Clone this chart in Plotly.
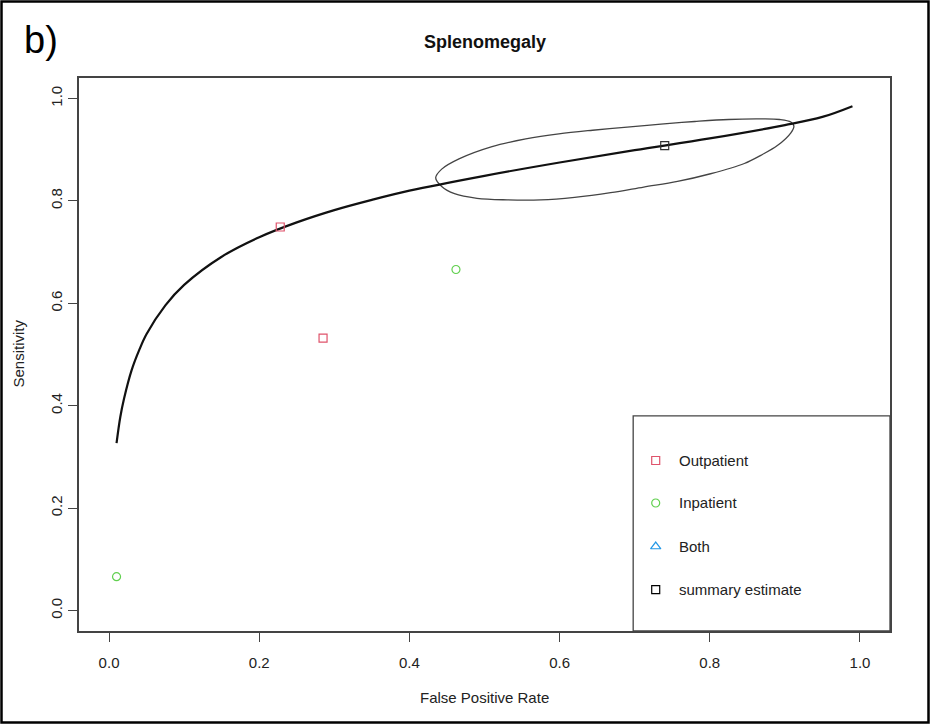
import plotly.graph_objects as go

# --- data ---------------------------------------------------------------
outpatient_fpr = [0.228, 0.285]
outpatient_sens = [0.749, 0.532]

inpatient_fpr = [0.462, 0.010]
inpatient_sens = [0.666, 0.066]

summary_fpr = [0.740]
summary_sens = [0.908]

# SROC curve
sroc_fpr = [0.010, 0.015, 0.020, 0.030, 0.040, 0.050, 0.075, 0.100, 0.150,
            0.200, 0.250, 0.300, 0.350, 0.400, 0.500, 0.600, 0.700, 0.800,
            0.900, 0.950, 0.990]
sroc_sens = [0.327, 0.378, 0.414, 0.469, 0.508, 0.540, 0.596, 0.636, 0.691,
             0.729, 0.758, 0.782, 0.802, 0.820, 0.849, 0.875, 0.899, 0.922,
             0.948, 0.964, 0.985]

# confidence region around the summary estimate
region_fpr = [0.435, 0.443, 0.466, 0.510, 0.555, 0.599, 0.644, 0.690, 0.735,
              0.780, 0.825, 0.865, 0.893, 0.908, 0.912, 0.908, 0.890, 0.868,
              0.846, 0.801, 0.757, 0.712, 0.668, 0.620, 0.575, 0.530, 0.490,
              0.460, 0.443, 0.435]
region_sens = [0.845, 0.862, 0.882, 0.906, 0.921, 0.931, 0.938, 0.944, 0.950,
               0.955, 0.959, 0.960, 0.959, 0.954, 0.946, 0.933, 0.908, 0.889,
               0.873, 0.853, 0.838, 0.827, 0.816, 0.807, 0.802, 0.802, 0.805,
               0.814, 0.828, 0.845]

legend_labels = ["Outpatient", "Inpatient", "Both", "summary estimate"]
legend_symbols = ["square-open", "circle-open", "triangle-up-open", "square-open"]
legend_colors = ["#DF536B", "#61D04F", "#2297E6", "#000000"]
legend_rows = [0.293, 0.210, 0.125, 0.041]

x_ticks = [0.0, 0.2, 0.4, 0.6, 0.8, 1.0]
y_ticks = [0.0, 0.2, 0.4, 0.6, 0.8, 1.0]

FONT = "Liberation Sans, Arial, sans-serif"

fig = go.Figure()

fig.add_trace(go.Scatter(x=region_fpr, y=region_sens, mode="lines",
                         line=dict(color="#444444", width=1.3, shape="spline",
                                   smoothing=1.0),
                         hoverinfo="skip"))
fig.add_trace(go.Scatter(x=sroc_fpr, y=sroc_sens, mode="lines",
                         line=dict(color="#111111", width=2.2, shape="spline"),
                         hoverinfo="skip"))
fig.add_trace(go.Scatter(x=outpatient_fpr, y=outpatient_sens, mode="markers",
                         marker=dict(symbol="square-open", size=8,
                                     color="#DF536B", line=dict(width=1.2))))
fig.add_trace(go.Scatter(x=inpatient_fpr, y=inpatient_sens, mode="markers",
                         marker=dict(symbol="circle-open", size=8,
                                     color="#61D04F", line=dict(width=1.2))))
fig.add_trace(go.Scatter(x=summary_fpr, y=summary_sens, mode="markers",
                         marker=dict(symbol="square-open", size=8,
                                     color="#333333", line=dict(width=1.2))))

shapes = []
# legend box (bottom-right of the plot region)
shapes.append(dict(type="rect", xref="x", yref="y", x0=0.698, x1=1.04,
                   y0=-0.04, y1=0.380, line=dict(color="#444444", width=1.3),
                   fillcolor="rgba(255,255,255,0)", layer="above"))
# outer frame around the whole figure
W, H = 930, 724
L, R, T, B = 79, 40, 78, 93
pw, ph = W - L - R, H - T - B


def px_to_paper_x(px):
    return (px - L) / pw


def py_to_paper_y(py):
    return (H - B - py) / ph


shapes.append(dict(type="rect", xref="paper", yref="paper",
                   x0=px_to_paper_x(1.5), x1=px_to_paper_x(928.5),
                   y0=py_to_paper_y(722.5), y1=py_to_paper_y(1.5),
                   line=dict(color="#000000", width=2.5)))

# legend entries
legend_x_sym = 0.728
legend_x_txt = 0.757
for lab, sym, col, yy in zip(legend_labels, legend_symbols, legend_colors, legend_rows):
    fig.add_trace(go.Scatter(x=[legend_x_sym], y=[yy], mode="markers",
                             marker=dict(symbol=sym, size=8 if sym != "triangle-up-open" else 9,
                                         color=col, line=dict(width=1.2)),
                             hoverinfo="skip"))

annotations = []
for lab, yy in zip(legend_labels, legend_rows):
    annotations.append(dict(x=legend_x_txt, y=yy, xref="x", yref="y", text=lab,
                            showarrow=False, xanchor="left", yanchor="middle",
                            font=dict(family=FONT, size=15, color="#222222")))

annotations.append(dict(x=px_to_paper_x(484.5), y=py_to_paper_y(42),
                        xref="paper", yref="paper", text="<b>Splenomegaly</b>",
                        showarrow=False, xanchor="center", yanchor="middle",
                        font=dict(family=FONT, size=18, color="#111111")))
annotations.append(dict(x=px_to_paper_x(484.5), y=py_to_paper_y(697),
                        xref="paper", yref="paper", text="False Positive Rate",
                        showarrow=False, xanchor="center", yanchor="middle",
                        font=dict(family=FONT, size=15, color="#222222")))
annotations.append(dict(x=px_to_paper_x(17.5), y=py_to_paper_y(354),
                        xref="paper", yref="paper", text="Sensitivity",
                        showarrow=False, xanchor="center", yanchor="middle",
                        textangle=-90,
                        font=dict(family=FONT, size=15, color="#222222")))
annotations.append(dict(x=px_to_paper_x(22), y=py_to_paper_y(40),
                        xref="paper", yref="paper", text="b)",
                        showarrow=False, xanchor="left", yanchor="middle",
                        font=dict(family=FONT, size=38, color="#000000")))

axis_common = dict(range=[-0.04, 1.04], showgrid=False, zeroline=False,
                   showline=True, mirror=True, linecolor="#444444", linewidth=1.5,
                   ticks="outside", ticklen=9, tickwidth=1.2, tickcolor="#444444",
                   tickfont=dict(family=FONT, size=15, color="#222222"),
                   tickformat=".1f")

fig.update_layout(
    width=W, height=H,
    margin=dict(l=L, r=R, t=T, b=B),
    paper_bgcolor="white", plot_bgcolor="white",
    showlegend=False,
    shapes=shapes,
    annotations=annotations,
    xaxis=dict(**axis_common, tickvals=x_ticks, ticklabelstandoff=8),
    yaxis=dict(**axis_common, tickvals=y_ticks, tickangle=-90, ticklabelstandoff=0),
)

fig.write_html("out.html")
